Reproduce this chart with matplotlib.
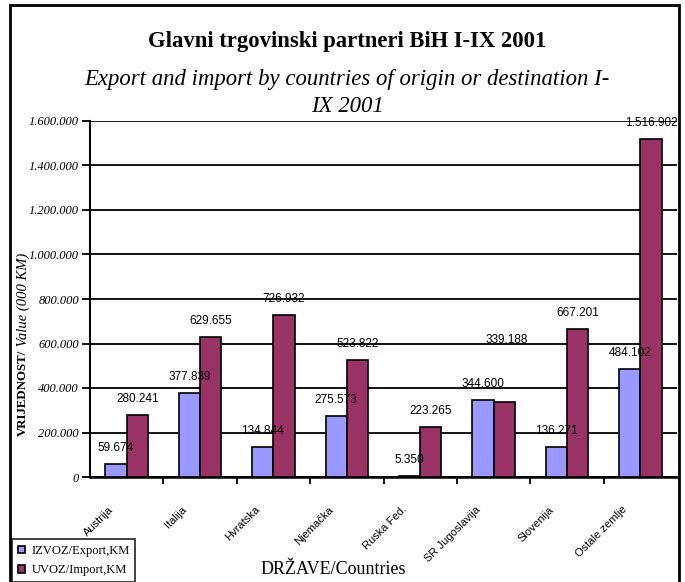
import matplotlib
matplotlib.use("Agg")
import matplotlib.pyplot as plt
import matplotlib.transforms as mtransforms
from matplotlib.patches import Rectangle
import numpy as np

categories = ["Austrija", "Italija", "Hvratska", "Njemačka", "Ruska Fed.",
              "SR Jugoslavija", "Slovenija", "Ostale zemlje"]
export_vals = [59674, 377839, 134844, 275573, 5350, 344600, 136271, 484102]
import_vals = [280241, 629655, 726932, 523822, 223265, 339188, 667201, 1516902]
export_labels = ["59.674", "377.839", "134.844", "275.573", "5.350", "344.600", "136.271", "484.102"]
import_labels = ["280.241", "629.655", "726.932", "523.822", "223.265", "339.188", "667.201", "1.516.902"]
yticks = [0, 200000, 400000, 600000, 800000, 1000000, 1200000, 1400000, 1600000]
ytick_labels = ["0", "200.000", "400.000", "600.000", "800.000", "1.000.000",
                "1.200.000", "1.400.000", "1.600.000"]

SERIF = "Liberation Serif"
SANS = "Liberation Sans"
EXP_C = "#9999FF"
IMP_C = "#993366"

W, H = 685, 582
fig = plt.figure(figsize=(W / 100, H / 100), dpi=100)
ax = fig.add_axes([90 / W, (H - 477) / H, (677 - 90) / W, (477 - 121) / H])

n = len(categories)
x = np.arange(n) + 0.5
bw = 0.29
ax.bar(x - bw / 2, export_vals, bw, color=EXP_C, edgecolor="black", linewidth=1.2,
       zorder=3, label="IZVOZ/Export,KM")
ax.bar(x + bw / 2, import_vals, bw, color=IMP_C, edgecolor="black", linewidth=1.2,
       zorder=3, label="UVOZ/Import,KM")

def lab_transform(dy_px):
    return mtransforms.offset_copy(ax.transData, fig=fig, x=0, y=dy_px * 0.72, units="points")

for xi, v, lab in zip(x - bw / 2, export_vals, export_labels):
    ax.text(xi, v, lab, transform=lab_transform(16), ha="center", va="center", fontsize=8.5,
            family=SANS, zorder=4, clip_on=False)
for xi, v, ev, lab in zip(x + bw / 2, import_vals, export_vals, import_labels):
    # Excel moved the label up when it would collide with the neighbouring label
    dy = 16 if abs(v - ev) > 60000 else 62
    ax.text(xi + (0.04 if dy > 16 else 0), v, lab, transform=lab_transform(dy), ha="center",
            va="center", fontsize=8.5, family=SANS, zorder=4, clip_on=False)

ax.set_xlim(0, n)
ax.set_ylim(0, 1600000)
ax.set_yticks(yticks)
ax.set_yticklabels(ytick_labels, family=SERIF, style="italic", fontsize=9)
ax.yaxis.grid(True, color="black", linewidth=1.3, zorder=0)
ax.set_axisbelow(True)
ax.tick_params(axis="y", direction="out", length=6, width=1.3, pad=2)
ax.set_xticks(np.arange(1, n))
ax.set_xticklabels([])
ax.tick_params(axis="x", direction="out", length=5, width=1.3)
for s in ["top", "right"]:
    ax.spines[s].set_visible(False)
ax.spines["left"].set_linewidth(1.5)
ax.spines["bottom"].set_linewidth(1.8)

# category labels
lab_tr = ax.get_xaxis_transform() + mtransforms.ScaledTranslation(-15 / 100, -31 / 100, fig.dpi_scale_trans)
for xi, c in zip(x, categories):
    ax.text(xi, 0, c, transform=lab_tr, rotation=45, rotation_mode="anchor",
            ha="right", va="center", fontsize=8, family=SANS, clip_on=False)

# titles
fig.text(347 / W, 1 - 42 / H, "Glavni trgovinski partneri BiH I-IX 2001", ha="center",
         va="center", family=SERIF, weight="bold", fontsize=16.3)
fig.text(347 / W, 1 - 79 / H, "Export and import by countries of origin or destination I-",
         ha="center", va="center", family=SERIF, style="italic", fontsize=16.4)
fig.text(347 / W, 1 - 106 / H, "IX 2001", ha="center", va="center", family=SERIF,
         style="italic", fontsize=16.4)

# y label
fig.text(23 / W, 1 - 350 / H, "VRIJEDNOST/", rotation=90, rotation_mode="anchor",
         ha="right", va="center", family=SERIF, weight="bold", fontsize=9.3)
fig.text(23 / W, 1 - 350 / H, " Value (000 KM)", rotation=90, rotation_mode="anchor",
         ha="left", va="center", family=SERIF, style="italic", fontsize=10.5)

# x label
fig.text(333 / W, 1 - 569 / H, "DRŽAVE/Countries", ha="center", va="center",
         family=SERIF, fontsize=13)

# legend
leg = fig.legend(loc="lower left", bbox_to_anchor=(12 / W, 0), bbox_transform=fig.transFigure,
                 prop={"family": SERIF, "size": 9}, frameon=True, fancybox=False,
                 edgecolor="black", handlelength=0.6, handleheight=0.6, handletextpad=0.5,
                 borderpad=0.45, labelspacing=0.6, borderaxespad=0)
leg.get_frame().set_linewidth(1.3)

# outer border
fig.patches.append(Rectangle((10 / W, -0.02), (679 - 10) / W, 1 - 5 / H + 0.02,
                             transform=fig.transFigure, fill=False, edgecolor="black",
                             linewidth=2, zorder=10))

fig.savefig("out.png", dpi=100)
